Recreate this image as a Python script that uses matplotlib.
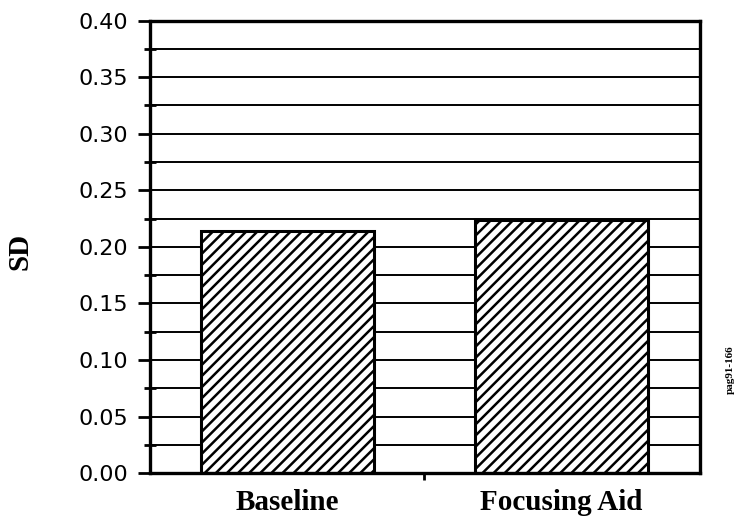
import numpy as np
import matplotlib
matplotlib.use('Agg')
import matplotlib.pyplot as plt
from matplotlib.ticker import MultipleLocator

# values
categories = ['Baseline', 'Focusing Aid']
sd_values = [0.214, 0.224]
y_labels = ['0.00', '0.05', '0.10', '0.15', '0.20', '0.25', '0.30', '0.35', '0.40']
y_major = [0.00, 0.05, 0.10, 0.15, 0.20, 0.25, 0.30, 0.35, 0.40]
fig_id = 'pag91-166'

plt.rcParams['hatch.linewidth'] = 1.8
plt.rcParams['hatch.color'] = 'black'

fig = plt.figure(figsize=(7.36, 5.27), dpi=100)
ax = fig.add_axes([0.204, 0.102, 0.747, 0.859])

x = np.arange(len(categories))
#horizontal lines every 0.025, drawn under the bars
ax.set_axisbelow(True)
ax.yaxis.grid(True, which='both', color='black', linewidth=1.4)
ax.bar(x, sd_values, width=0.63, color='white', edgecolor='black',
       linewidth=2.2, hatch='///', zorder=2)

ax.set_xlim(-0.5, 1.505)
ax.set_ylim(0, 0.40)
ax.set_yticks(y_major)
ax.set_yticklabels(y_labels, fontsize=16, family='DejaVu Sans')
ax.yaxis.set_minor_locator(MultipleLocator(0.025))
ax.tick_params(axis='y', which='major', direction='out', length=9, width=2, pad=7)
ax.tick_params(axis='y', which='minor', direction='inout', length=8, width=2)

ax.set_xticks(x)
ax.set_xticklabels(categories, fontsize=21, family='Liberation Serif', fontweight='bold')
ax.tick_params(axis='x', which='major', length=0, pad=11)
ax.set_xticks([0.5], minor=True)
ax.tick_params(axis='x', which='minor', direction='out', length=5, width=2)

for s in ax.spines.values():
    s.set_linewidth(2.4)

ax.set_ylabel('SD', fontsize=21, family='Liberation Serif', fontweight='bold')
ax.yaxis.set_label_coords(-0.213, 0.49)

fig.text(0.9925, 0.298, fig_id, rotation=90, ha='center', va='center',
         fontsize=8, family='Liberation Serif', fontweight='bold')

fig.savefig('out.png', dpi=100)
